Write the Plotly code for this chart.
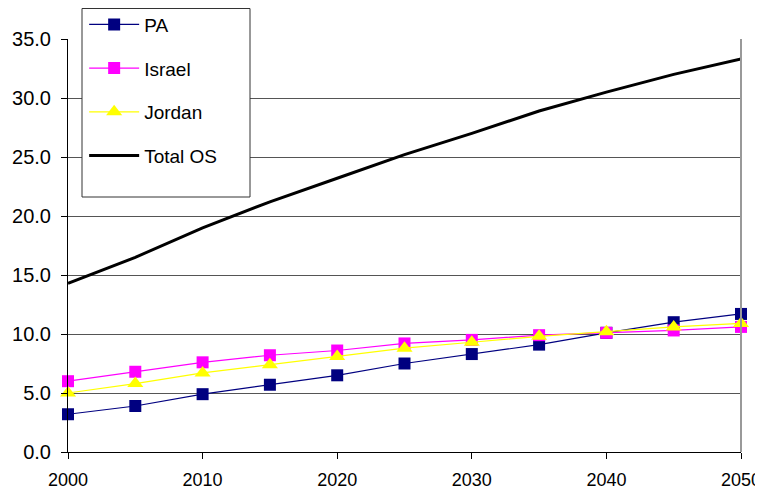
import plotly.graph_objects as go

years = [2000, 2005, 2010, 2015, 2020, 2025, 2030, 2035, 2040, 2045, 2050]
pa = [3.2, 3.9, 4.9, 5.7, 6.5, 7.5, 8.3, 9.1, 10.1, 11.0, 11.7]
israel = [6.0, 6.8, 7.6, 8.2, 8.6, 9.2, 9.5, 9.9, 10.1, 10.3, 10.6]
jordan = [5.0, 5.8, 6.7, 7.4, 8.1, 8.8, 9.3, 9.8, 10.2, 10.6, 10.9]
total_os = [14.3, 16.5, 19.0, 21.2, 23.2, 25.2, 27.0, 28.9, 30.5, 32.0, 33.3]

fig = go.Figure()
fig.add_trace(go.Scatter(x=years, y=pa, name="PA", mode="lines+markers",
                         line=dict(color="#000080", width=1.2),
                         marker=dict(symbol="square", size=12, color="#000080"),
                         cliponaxis=False, legendgroup="a"))
fig.add_trace(go.Scatter(x=years, y=israel, name="Israel", mode="lines+markers",
                         line=dict(color="#FF00FF", width=1.2),
                         marker=dict(symbol="square", size=12, color="#FF00FF"),
                         cliponaxis=False, legendgroup="b"))
fig.add_trace(go.Scatter(x=years, y=jordan, name="Jordan", mode="lines+markers",
                         line=dict(color="#FFFF00", width=1.2),
                         marker=dict(symbol="triangle-up", size=14, color="#FFFF00"),
                         cliponaxis=False, legendgroup="c"))
fig.add_trace(go.Scatter(x=years, y=total_os, name="Total OS", mode="lines",
                         line=dict(color="#000000", width=3),
                         cliponaxis=False, legendgroup="d"))

# right border of the plot area
fig.add_shape(type="line", xref="paper", yref="paper", x0=1, x1=1, y0=0, y1=1,
              line=dict(color="#999999", width=2))
# legend frame (taller than plotly's own box, like the original)
fig.add_shape(type="rect", xref="paper", yref="paper",
              x0=14 / 673, x1=182 / 673, y0=(413 - 158) / 413, y1=(413 + 30.5) / 413,
              line=dict(color="#333333", width=1), fillcolor="white", layer="above")

# the page adds an 8px body margin, so the figure is 8px smaller each way
fig.update_layout(
    width=755, height=482,
    margin=dict(l=60, r=22, t=31, b=38, autoexpand=False),
    plot_bgcolor="white", paper_bgcolor="white",
    font=dict(family="Liberation Sans, Arial, sans-serif", size=20, color="black"),
    showlegend=True,
    legend=dict(x=0.024, y=1.081, xanchor="left", yanchor="top",
                bgcolor="rgba(0,0,0,0)", borderwidth=0,
                font=dict(size=19), tracegroupgap=16, itemwidth=50),
)
fig.update_xaxes(range=[2000, 2050], tickvals=[2000, 2010, 2020, 2030, 2040, 2050],
                 showgrid=False, showline=True, linecolor="black", linewidth=1,
                 ticks="outside", ticklen=6, tickcolor="black", zeroline=False,
                 tickfont=dict(size=18),
                 ticklabelstandoff=5, automargin=False, ticklabeloverflow="allow")
fig.update_yaxes(range=[0, 35], dtick=5, tickformat=".1f",
                 showgrid=True, gridcolor="#555555", gridwidth=1,
                 showline=True, linecolor="black", linewidth=1,
                 ticks="outside", ticklen=6, tickcolor="black", zeroline=False,
                 ticklabelstandoff=6, automargin=False, ticklabeloverflow="allow")

fig.write_html("out.html")
